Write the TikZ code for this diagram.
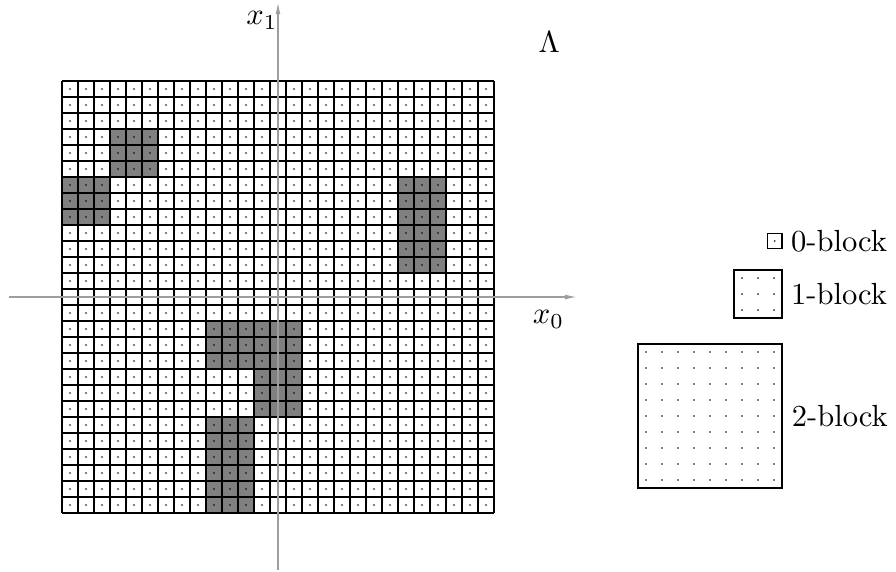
\documentclass[tikz,border=0pt]{standalone}
\usetikzlibrary{positioning, arrows.meta}

\begin{document}
\begin{tikzpicture}[
  x=1.84mm, y=1.84mm,
  >={Latex[length=4pt, width=1.6pt]},
  cellline/.style={line width=0.4pt},
  oneline/.style={line width=0.55pt},
  twoline/.style={line width=0.9pt},
  shaded/.style={fill=black!50},
  celldot/.style={fill=black},
  axisline/.style={->, draw=black!38, line width=0.45pt},
  legendbox/.style={rectangle, draw, inner sep=0pt, fill=none},
  legendtext/.style={inner sep=0pt, anchor=west}
]
\useasboundingbox (-3.875,-3.625) rectangle (52.125,32.0625);

% Shaded cells
\fill[shaded] (3,21) rectangle (6,24);
\fill[shaded] (0,18) rectangle (3,21);
\fill[shaded] (21,15) rectangle (24,21);
\fill[shaded] (9,9) rectangle (15,12);
\fill[shaded] (12,6) rectangle (15,9);
\fill[shaded] (9,0) rectangle (12,6);

% Lattice Lambda: 0-, 1- and 2-blocks
\foreach \k in {0,...,27} {
  \draw[cellline] (\k,0) -- (\k,27);
  \draw[cellline] (0,\k) -- (27,\k);
}
\foreach \k in {3,6,12,15,21,24} {
  \draw[oneline] (\k,0) -- (\k,27);
  \draw[oneline] (0,\k) -- (27,\k);
}
\foreach \k in {0,9,18,27} {
  \draw[twoline] (\k,0) -- (\k,27);
  \draw[twoline] (0,\k) -- (27,\k);
}
\foreach \i in {0,...,26}
  \foreach \j in {0,...,26}
    \fill[celldot] (\i+0.5,\j+0.5) circle (0.3pt);

% Axes
\coordinate (x0start) at (-3.3,13.5);
\coordinate (x0end) at (32.2,13.5);
\coordinate (x1start) at (13.5,-3.56);
\coordinate (x1end) at (13.5,31.94);
\draw[axisline] (x0start) -- (x0end);
\draw[axisline] (x1start) -- (x1end);
\node (x0label) at (30.4,12.1) {$x_0$};
\node (x1label) at (12.5,30.8) {$x_1$};
\node (lattice) at (30.45,29.45) {$\Lambda$};

% Legend
\node[legendbox, cellline, minimum size=0.9*1.84mm] (zeroblock) at (44.55,17) {};
\fill[celldot] (zeroblock.center) circle (0.3pt);
\node[legendtext, right=0.9mm of zeroblock.east] (zerotext) {0-block};

\node[legendbox, cellline, minimum size=3*1.84mm] (oneblock) at (43.5,13.69) {};
\foreach \i in {0,1,2}
  \foreach \j in {0,1,2}
    \fill[celldot] (42.5+\i,12.69+\j) circle (0.3pt);
\node[legendtext, right=0.9mm of oneblock.east] (onetext) {1-block};

\node[legendbox, twoline, minimum size=9*1.84mm] (twoblock) at (40.5,6.06) {};
\foreach \i in {0,...,8}
  \foreach \j in {0,...,8}
    \fill[celldot] (36.5+\i,2.06+\j) circle (0.3pt);
\node[legendtext, right=0.9mm of twoblock.east] (twotext) {2-block};

\end{tikzpicture}
\end{document}
